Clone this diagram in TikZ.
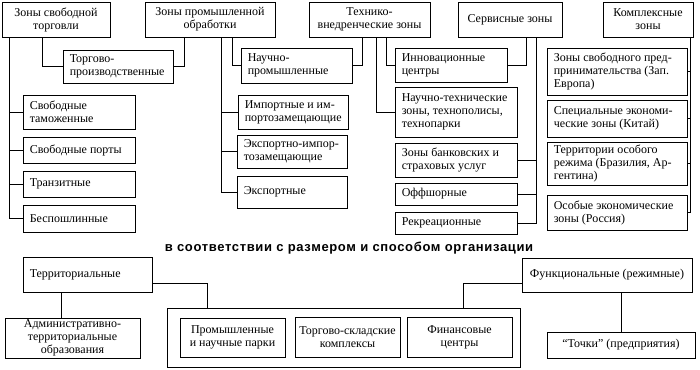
\documentclass[tikz,border=0pt]{standalone}
\usepackage{fontspec}
\setmainfont{Liberation Serif}
\newfontfamily\headfont[LetterSpace=5]{Liberation Sans}
\tikzset{
  frame/.style={draw, line width=0.9pt, inner sep=0pt},
  txt/.style={inner sep=0pt, font=\fontsize{12}{13}\selectfont, align=left},
  ctxt/.style={font=\fontsize{12}{13}\selectfont, align=center},
  wire/.style={line width=0.9pt}
}
\newcommand\lbox[6]{%
  \pgfmathsetmacro\bw{#4-#2}\pgfmathsetmacro\bh{#5-#3}%
  \node[frame, minimum width=\bw pt, minimum height=\bh pt] (#1) at ({(#2+#4)/2},{(#3+#5)/2}) {};
  \node[txt, anchor=west] (#1t) at ([xshift=7pt]#1.west) {#6};}
\newcommand\cbox[6]{%
  \pgfmathsetmacro\bw{#4-#2}\pgfmathsetmacro\bh{#5-#3}%
  \node[frame, ctxt, minimum width=\bw pt, minimum height=\bh pt] (#1) at ({(#2+#4)/2},{(#3+#5)/2}) {#6};}
\begin{document}
\begin{tikzpicture}[x=1pt, y=-1pt]
\useasboundingbox (0,0) rectangle (700,369);
% top row
\cbox{t1}{2}{2}{110}{37}{Зоны свободной\\торговли}
\cbox{t2}{145}{2}{275}{37}{Зоны промышленной\\обработки}
\cbox{t3}{309}{2}{430}{37}{Технико-\\внедренческие зоны}
\cbox{t4}{458}{2}{562}{37}{Сервисные зоны}
\cbox{t5}{603}{2}{693}{37}{Комплексные\\зоны}
% column a
\lbox{a0}{63}{50}{173}{83}{Торгово-\\производственные}
\lbox{a1}{23}{95}{135}{129}{Свободные\\таможенные}
\lbox{a2}{23}{137}{135}{163}{Свободные порты}
\lbox{a3}{23}{171}{135}{197}{Транзитные}
\lbox{a4}{23}{205}{135}{232}{Беспошлинные}
% column b
\lbox{b0}{241}{48}{352}{83}{Научно-\\промышленные}
\lbox{b1}{238}{95}{348}{129}{Импортные и им-\\портозамещающие}
\lbox{b2}{237}{135}{347}{168}{Экспортно-импор-\\тозамещающие}
\lbox{b3}{237}{176}{347}{208}{Экспортные}
% column c
\lbox{c0}{395}{48}{507}{82}{Инновационные\\центры}
\lbox{c1}{395}{87}{517}{137}{Научно-технические\\зоны, технополисы,\\технопарки}
\lbox{c2}{395}{143}{517}{177}{Зоны банковских и\\страховых услуг}
\lbox{c3}{395}{183}{517}{205}{Оффшорные}
\lbox{c4}{395}{212}{517}{234}{Рекреационные}
% column d
\lbox{d1}{547}{48}{687}{95}{Зоны свободного пред-\\принимательства (Зап.\\Европа)}
\lbox{d2}{547}{100}{687}{137}{Специальные экономи-\\ческие зоны (Китай)}
\lbox{d3}{547}{142}{687}{185}{Территории особого\\режима (Бразилия, Ар-\\гентина)}
\lbox{d4}{547}{195}{687}{230}{Особые экономические\\зоны (Россия)}
% connectors top part
\foreach \n in {a1,a2,a3,a4} \draw[wire] ([xshift=8pt]t1.south west) |- (\n.west);
\draw[wire] ([xshift=41pt]t1.south west) |- (a0.west);
\draw[wire] ([xshift=40pt]t2.south west) |- (a0.east);
\foreach \n in {b1,b2,b3} \draw[wire] ([xshift=77pt]t2.south west) |- (\n.west);
\draw[wire] ([xshift=88pt]t2.south west) |- (b0.west);
\draw[wire] ([xshift=54pt]t3.south west) |- (b0.east);
\draw[wire] ([xshift=68pt]t3.south west) |- (c1.west);
\draw[wire] ([xshift=78pt]t3.south west) |- (c0.west);
\draw[wire] ([xshift=69pt]t4.south west) |- (c0.east);
\foreach \n in {c2,c3,c4} \draw[wire] ([xshift=79pt]t4.south west) |- (\n.east);
\foreach \n in {d1,d2,d3,d4} \draw[wire] ([xshift=-3pt]t5.south east) |- (\n.east);
% heading
\node[font=\headfont\bfseries\fontsize{13}{15}\selectfont, inner sep=0pt] (hd) at (349,248) {в соответствии с размером и способом организации};
% bottom part
\lbox{e1}{23}{257}{152}{292}{Территориальные}
\cbox{e2}{5}{318}{140}{358}{Административно-\\территориальные\\образования}
\cbox{f}{167}{308}{520}{367}{}
\cbox{f1}{180}{318}{285}{357}{Промышленные\\и научные парки}
\cbox{f2}{295}{317}{400}{357}{Торгово-складские\\комплексы}
\cbox{f3}{407}{317}{512}{357}{Финансовые\\центры}
\cbox{g1}{522}{258}{692}{292}{Функциональные (режимные)}
\cbox{g2}{547}{332}{695}{358}{“Точки” (предприятия)}
\draw[wire] ([xshift=39pt]e1.south west) -- ([xshift=39pt]e1.south west |- e2.north);
\draw[wire] ([yshift=9pt]e1.south east) -| ([xshift=41pt]f.north west);
\draw[wire] ([yshift=9pt]g1.south west) -| ([xshift=-57pt]f.north east);
\draw[wire] ([xshift=100pt]g1.south west) -- ([xshift=100pt]g1.south west |- g2.north);
\end{tikzpicture}
\end{document}
